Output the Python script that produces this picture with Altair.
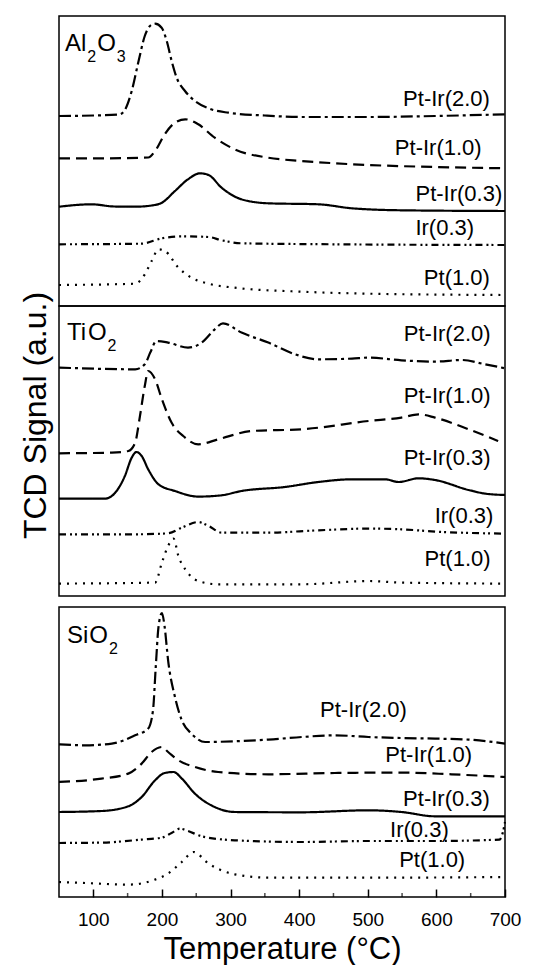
import altair as alt
import pandas as pd

FONT = "Liberation Sans"

series_names = ["Pt-Ir(2.0)", "Pt-Ir(1.0)", "Pt-Ir(0.3)", "Ir(0.3)", "Pt(1.0)"]
dash_styles = [[12, 4, 3, 4], [11, 6], [1, 0], [7, 4, 2, 3, 2, 4], [2, 6]]

major_ticks = [100, 200, 300, 400, 500, 600, 700]
minor_ticks = [150, 250, 350, 450, 550, 650]

# ---------------- Al2O3 panel ----------------
al_ptir20_T = [50, 100, 138, 146, 156, 166, 175, 182.6, 190, 199.6, 207, 214.2, 221.5, 233.6, 248.2, 267.6, 296.8, 350, 404, 501, 598, 700]
al_ptir20_v = [190, 190.5, 191.5, 196, 215, 245, 270, 280, 282.3, 278.3, 265, 245, 228.3, 215, 205, 197.7, 193.3, 190.5, 189, 189, 190, 191.7]
al_ptir10_T = [50, 120, 180, 190, 204, 219, 234, 253, 277, 306, 355, 404, 452, 501, 598, 700]
al_ptir10_v = [147.7, 147.7, 148.5, 155, 171.7, 183.3, 186.7, 181.7, 168.3, 156.7, 148.3, 145, 142.7, 141, 139, 137.7]
al_ptir03_T = [50, 98, 130, 161, 185, 200, 219, 238, 255.5, 268, 287, 316, 355, 428, 477, 549, 700]
al_ptir03_v = [99.3, 101.7, 99.5, 99.3, 100.5, 103.3, 115, 126.7, 132.7, 131, 118.3, 106.7, 102.7, 101.7, 97.7, 95.7, 95]
al_ir03_T = [50, 170, 200, 229, 268, 287, 316, 452, 700]
al_ir03_v = [61.7, 62.3, 67.7, 69.7, 69, 65.7, 62.7, 61.7, 61]
al_pt10_T = [50, 161, 175, 185, 195, 204.5, 224, 243, 268, 306, 404, 501, 700]
al_pt10_v = [21, 22.3, 31.7, 45, 56.7, 55, 38.3, 28.3, 22.3, 18.3, 14.3, 12.3, 11]
al_label_T = [678, 666, 696, 655, 678]
al_label_v = [207, 158, 112, 78, 28]

# ---------------- TiO2 panel ----------------
ti_ptir20_T = [50, 161, 175, 183, 192, 209, 238, 258, 277, 289, 316, 355, 394, 428, 477, 501, 549, 598, 637, 671, 700]
ti_ptir20_v = [228.4, 226.7, 231.7, 243.4, 255, 253.4, 248.4, 253.4, 266.7, 272.7, 263.4, 253.4, 241.7, 236.7, 237.4, 238.4, 235.7, 234.4, 236, 231.7, 227.7]
ti_ptir10_T = [50, 127, 151, 161, 168, 175, 180, 190, 200, 214, 231, 253, 282, 331, 404, 501, 549, 574, 598, 647, 690]
ti_ptir10_v = [142.7, 143.4, 145, 153.4, 180, 210, 225, 216.7, 196.7, 173.4, 160, 151.7, 156.7, 165, 166.7, 175, 178.4, 181.7, 178.4, 166.7, 155]
ti_ptir03_T = [50, 117, 132, 146, 156, 163, 170.5, 180, 195, 219, 253, 287, 316, 379, 428, 477, 525, 545, 574, 598, 647, 671, 700]
ti_ptir03_v = [97.4, 97.4, 103.4, 120, 138.4, 144, 140, 126.7, 111.7, 105, 99.4, 100.7, 105, 109, 114, 116.7, 116.7, 114, 117.7, 116, 106, 102.4, 101]
ti_ir03_T = [50, 161, 209, 229, 253, 268, 287, 355, 428, 501, 549, 598, 700]
ti_ir03_v = [61.7, 61.7, 62.7, 68.4, 74, 70, 63.4, 63.4, 65.7, 67.4, 66.7, 64.4, 62.4]
ti_pt10_T = [50, 190, 200, 209, 217, 224, 234, 253, 282, 404, 501, 549, 700]
ti_pt10_v = [12.4, 13.4, 33.4, 50, 57.4, 40, 26.7, 15, 11.7, 11.7, 15, 13.4, 12.4]
ti_label_T = [679, 679, 679, 683, 679]
ti_label_v = [261.7, 200, 138.4, 80, 36.7]

# ---------------- SiO2 panel ----------------
si_ptir20_T = [50, 88, 127, 161, 180, 187, 191, 195, 200, 204, 209, 219, 229, 243, 263, 306, 355, 404, 452, 501, 549, 598, 647, 700]
si_ptir20_v = [152.7, 151.7, 153.4, 161.7, 168.4, 186.7, 230, 270, 284, 270, 236.7, 200, 176.7, 163.4, 155, 155.7, 157.4, 160, 161.7, 160, 159, 158.4, 157.4, 153.4]
si_ptir10_T = [50, 112, 151, 170.5, 185, 200, 209, 224, 248, 282, 355, 452, 549, 622, 700]
si_ptir10_v = [115, 118.4, 123.4, 133.4, 145, 150, 145, 136.7, 130, 125, 122.7, 124, 124.4, 122.7, 120]
si_ptir03_T = [50, 112, 151, 170.5, 190, 204, 217, 229, 248, 277, 306, 404, 501, 549, 598, 700]
si_ptir03_v = [85, 86, 90.7, 100, 116.7, 124, 125, 118.4, 103.4, 90, 85, 84.7, 86.7, 85, 80.7, 80.7]
si_ir03_T = [50, 112, 170.5, 200, 214, 226, 238, 258, 306, 404, 501, 598, 692, 697, 700]
si_ir03_v = [54, 54.4, 57.4, 59.4, 64, 68.4, 66, 60.7, 56.7, 55, 56, 56, 57.4, 65, 75]
si_pt10_T = [50, 88, 151, 190, 209, 229, 246, 268, 306, 355, 452, 549, 700]
si_pt10_v = [15, 14, 12.4, 17.4, 23.4, 35, 45, 33.4, 22.7, 19.4, 19.4, 19.4, 20]
si_label_T = [557, 652, 678, 618, 642]
si_label_v = [186.7, 141.7, 98.4, 66.7, 36.7]

# panel names (text pieces, subscript flag) and anchors
al_name = [("Al", False), ("2", True), ("O", False), ("3", True)]
ti_name = [("Ti", False), ("O", False), ("2", True)]
si_name = [("Si", False), ("O", False), ("2", True)]
name_anchor_T = [58.7, 61.5, 61.5]
name_anchor_v = [255, 256, 254]

CHAR_W = {"A": 0.667, "l": 0.222, "O": 0.778, "T": 0.611, "i": 0.222, "S": 0.667, "2": 0.556, "3": 0.556}
MAIN_FS, SUB_FS = 24, 16

W, H = 446, 290


def panel(curves, label_T, label_v, name_parts, nT, nv, y_title=False, bottom=False):
    rows = []
    for s, (T, v) in zip(series_names, curves):
        for t, y in zip(T, v):
            rows.append({"T": t, "v": y, "series": s})
    df = pd.DataFrame(rows)

    if bottom:
        x_axis = alt.Axis(values=major_ticks, tickSize=8, offset=-8, tickWidth=1.5, tickColor="black",
                          domain=False, grid=False, labelFont=FONT, labelFontSize=19, labelColor="black",
                          labelPadding=13, labelFlush=False, title="Temperature (°C)", titleFont=FONT,
                          titleFontSize=31, titleFontWeight="normal", titleColor="black", titlePadding=5)
    else:
        x_axis = None
    if y_title:
        y_axis = alt.Axis(title="TCD Signal (a.u.)", labels=False, ticks=False, domain=False, grid=False,
                          titleFont=FONT, titleFontSize=32, titleFontWeight="normal", titleColor="black",
                          titlePadding=7, titleY=109)
    else:
        y_axis = None

    xs = alt.Scale(domain=[50, 700], nice=False, zero=False)
    ys = alt.Scale(domain=[0, 290], nice=False, zero=False)
    x_enc = alt.X("T:Q", scale=xs, axis=x_axis)
    y_enc = alt.Y("v:Q", scale=ys, axis=y_axis)

    lines = alt.Chart(df).mark_line(color="black", strokeWidth=2.2, interpolate="monotone").encode(
        x=x_enc, y=y_enc,
        strokeDash=alt.StrokeDash("series:N", scale=alt.Scale(domain=series_names, range=dash_styles), legend=None),
        detail="series:N",
    )
    ldf = pd.DataFrame({"T": label_T, "v": label_v, "label": series_names})
    labels = alt.Chart(ldf).mark_text(align="right", baseline="middle", font=FONT, fontSize=22, color="black").encode(
        x=x_enc, y=y_enc, text="label:N")

    layers = [lines, labels]
    adf = pd.DataFrame({"T": [nT], "v": [nv]})
    dx = 0.0
    for txt, sub in name_parts:
        fs = SUB_FS if sub else MAIN_FS
        layers.append(alt.Chart(adf).mark_text(text=txt, align="left", baseline="alphabetic", font=FONT,
                                               fontSize=fs, dx=dx, dy=(11 if sub else 0), color="black").encode(
            x=x_enc, y=y_enc))
        dx += sum(CHAR_W.get(c, 0.55) for c in txt) * fs + 1

    if bottom:
        tdf = pd.DataFrame({"T": minor_ticks})
        layers.append(alt.Chart(tdf).mark_tick(orient="vertical", size=4, thickness=1.5, color="black").encode(
            x=x_enc, y=alt.value(H - 2)))

    return alt.layer(*layers).properties(width=W, height=H)


top = panel([(al_ptir20_T, al_ptir20_v), (al_ptir10_T, al_ptir10_v), (al_ptir03_T, al_ptir03_v),
             (al_ir03_T, al_ir03_v), (al_pt10_T, al_pt10_v)], al_label_T, al_label_v,
            al_name, name_anchor_T[0], name_anchor_v[0])
mid = panel([(ti_ptir20_T, ti_ptir20_v), (ti_ptir10_T, ti_ptir10_v), (ti_ptir03_T, ti_ptir03_v),
             (ti_ir03_T, ti_ir03_v), (ti_pt10_T, ti_pt10_v)], ti_label_T, ti_label_v,
            ti_name, name_anchor_T[1], name_anchor_v[1], y_title=True)
bot = panel([(si_ptir20_T, si_ptir20_v), (si_ptir10_T, si_ptir10_v), (si_ptir03_T, si_ptir03_v),
             (si_ir03_T, si_ir03_v), (si_pt10_T, si_pt10_v)], si_label_T, si_label_v,
            si_name, name_anchor_T[2], name_anchor_v[2], bottom=True)

spacer = alt.Chart(pd.DataFrame({"T": [50]})).mark_point(opacity=0).encode(
    x=alt.X("T:Q", axis=None)).properties(width=W, height=11, view=alt.ViewBackground(strokeOpacity=0))

chart = alt.vconcat(top, mid, spacer, bot, spacing=0, bounds="flush").properties(
    padding={"left": 10, "top": 7, "right": 5, "bottom": 2}, background="white"
).configure_view(stroke="black", strokeWidth=1.5)

chart.save("out.html", embed_options={"renderer": "svg", "actions": False})
